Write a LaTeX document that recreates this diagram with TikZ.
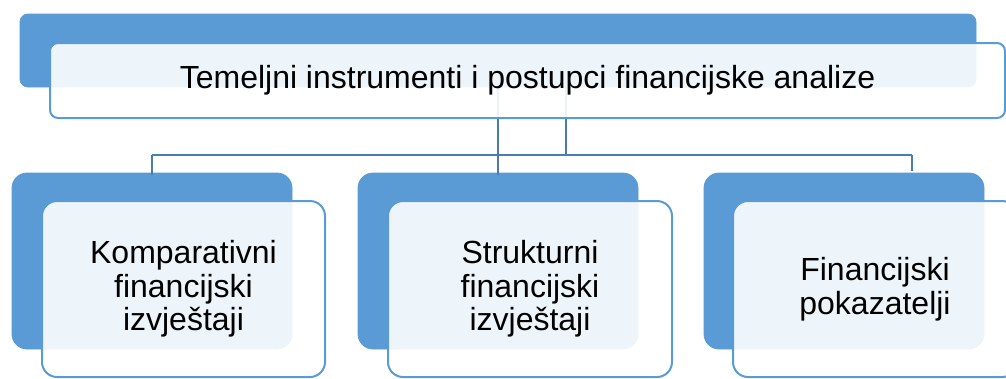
\documentclass[tikz,border=0pt]{standalone}
\usepackage{fontspec}
\setmainfont{Liberation Sans}
\definecolor{accblue}{HTML}{5B9BD5}
\definecolor{linkblue}{HTML}{4A7CB0}
\tikzset{
  bluebox/.style={rectangle, rounded corners=#1, fill=accblue, draw=accblue, line width=0.8pt, inner sep=0pt},
  whitebox/.style={rectangle, rounded corners=#1, fill=white, fill opacity=0.9, text opacity=1, draw=accblue, draw opacity=1, line width=2pt, inner sep=0pt, align=center, font=\fontsize{32}{33.5}\selectfont},
  link/.style={draw=linkblue, line width=2pt},
}
\begin{document}
\begin{tikzpicture}[x=1pt,y=-1pt]
\useasboundingbox (0,0) rectangle (1006,378);
\clip (0,0) rectangle (1006,378);
% blue back boxes
\node[bluebox=8pt, minimum width=956pt, minimum height=73pt] (topb) at (498,50.5) {};
\node[bluebox=15pt, minimum width=280pt, minimum height=176pt] (b1) at (152,261) {};
\node[bluebox=15pt, minimum width=280pt, minimum height=176pt] (b2) at (498,261) {};
\node[bluebox=15pt, minimum width=280pt, minimum height=176pt] (b3) at (844,261) {};
% connectors
\coordinate (j1) at (498,155);
\coordinate (j2) at (566,155);
\coordinate (t2) at (566,87);
\coordinate (d3) at (912,155);
\coordinate (e3) at (912,171);
\draw[link] (topb.south) -- (j1);
\draw[link] (t2) -- (j2);
\draw[link] (b1.north |- j1) -- (d3);
\draw[link] (b1.north |- j1) -- ([yshift=-2pt]b1.north);
\draw[link] (j1) -- ([yshift=-2pt]b2.north);
\draw[link] (d3) -- (e3);
% front boxes
\node[whitebox=8pt, minimum width=955pt, minimum height=75pt] (top) at (527.5,80.5) {Temeljni instrumenti i postupci financijske analize};
\node[whitebox=15pt, minimum width=283pt, minimum height=176pt] (w1) at (183.5,289) {Komparativni\\financijski\\izvještaji};
\node[whitebox=15pt, minimum width=284pt, minimum height=176pt] (w2) at (530,289) {Strukturni\\financijski\\izvještaji};
\node[whitebox=15pt, minimum width=284pt, minimum height=176pt] (w3) at (875,289) {Financijski\\pokazatelji};
\end{tikzpicture}
\end{document}
